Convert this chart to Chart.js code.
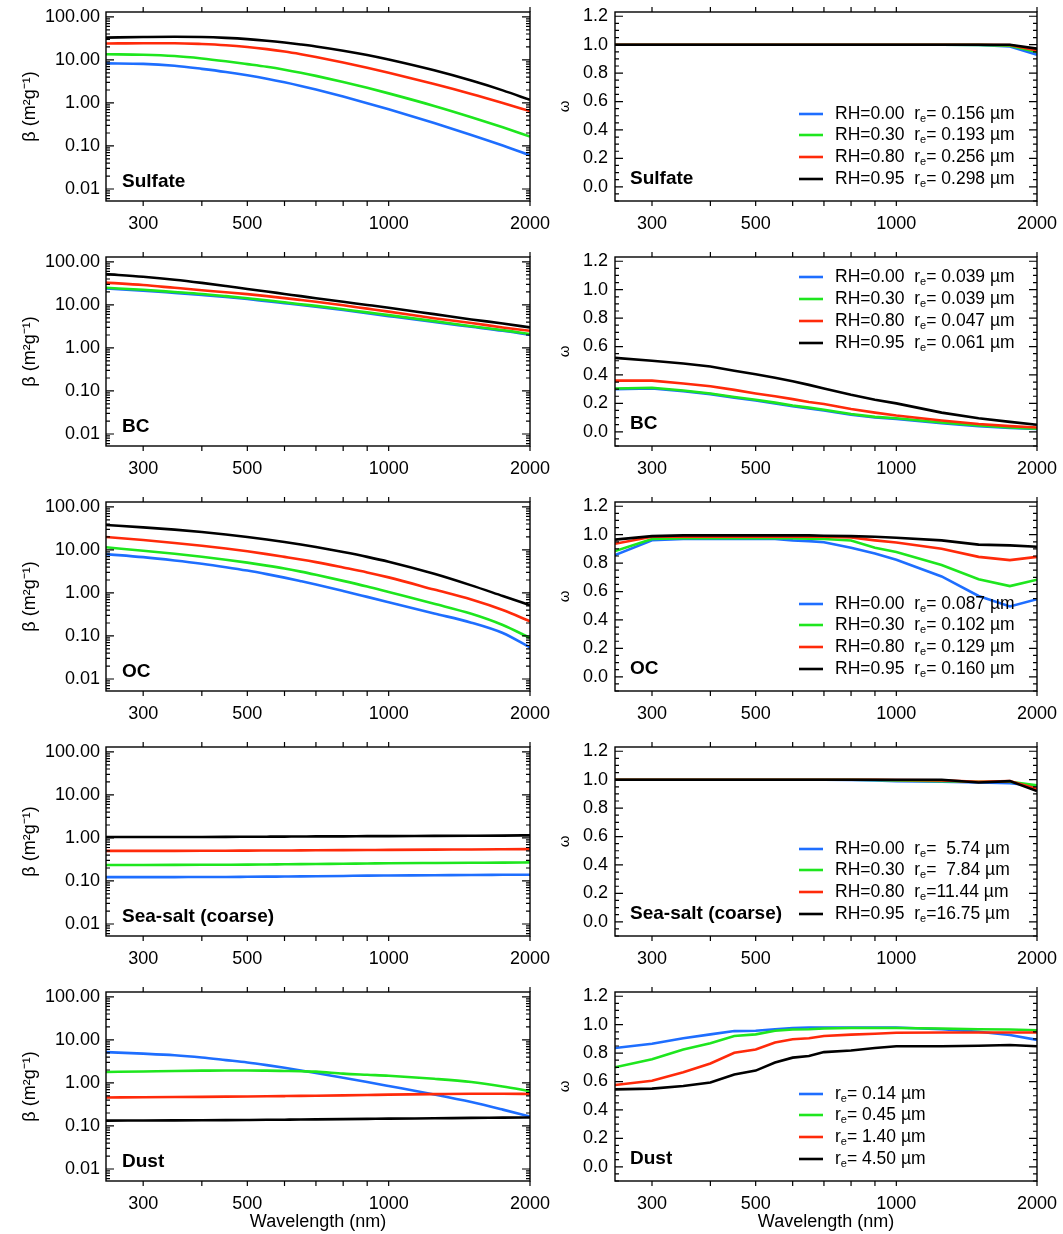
<!DOCTYPE html>
<html><head><meta charset="utf-8">
<script src="https://cdn.jsdelivr.net/npm/chart.js@4.4.1/dist/chart.umd.min.js"></script>
<style>
html,body{margin:0;padding:0;background:#fff;}
#wrap{position:relative;width:1063px;height:1234px;overflow:hidden;background:#fff;}
canvas{position:absolute;}
</style></head><body><div id="wrap"></div>
<script>
// ---------------- data ----------------
const wavelengths = [250,300,350,400,450,500,550,600,650,700,800,900,1000,1250,1500,1750,2000];
const xTickLabels = [300,500,1000,2000];
const xTickMarks = [300,400,500,600,700,800,900,1000,2000];
const betaTickLabels = [0.01,0.1,1,10,100];
const omegaTickLabels = [0,0.2,0.4,0.6,0.8,1.0,1.2];
const seriesColors = ['#1e6eff','#1ee61e','#ff2a0a','#000000'];
const rhLabels = ['RH=0.00','RH=0.30','RH=0.80','RH=0.95'];
const panelNames = ['Sulfate','BC','OC','Sea-salt (coarse)','Dust'];

const sulfateRe = [' 0.156',' 0.193',' 0.256',' 0.298'];
const bcRe = [' 0.039',' 0.039',' 0.047',' 0.061'];
const ocRe = [' 0.087',' 0.102',' 0.129',' 0.160'];
const seaSaltRe = ['  5.74','  7.84','11.44','16.75'];
const dustRe = [' 0.14',' 0.45',' 1.40',' 4.50'];

// Sulfate
const sulfBeta000 = [8.3,8.1,7.3,6.2,5.25,4.4,3.67,3.03,2.49,2.05,1.41,0.99,0.71,0.34,0.18,0.102,0.0605];
const sulfBeta030 = [13.5,13.2,12.3,10.8,9.3,8,6.94,5.94,5.04,4.26,3.07,2.25,1.67,0.853,0.467,0.272,0.166];
const sulfBeta080 = [24,24.5,24.5,23.5,22,20,17.8,15.64,13.55,11.69,8.72,6.57,5.02,2.75,1.62,1.0,0.646];
const sulfBeta095 = [33,34,34.5,34,32.5,30.5,28.0,25.4,22.9,20.6,16.4,13.0,10.2,5.72,3.31,1.96,1.18];
const sulfOmega000 = [1,1,1,1,1,1,1,1,1,1,1,1,1,1,0.998,0.988,0.93];
const sulfOmega030 = [1,1,1,1,1,1,1,1,1,1,1,1,1,1,0.999,0.993,0.948];
const sulfOmega080 = [1,1,1,1,1,1,1,1,1,1,1,1,1,1,1,0.998,0.96];
const sulfOmega095 = [1,1,1,1,1,1,1,1,1,1,1,1,1,1,1,1,0.972];

// BC
const bcBeta000 = [24,21.5,19,17,15.3,13.7,12.2,11,10,9.1,7.6,6.4,5.5,4.0,3.1,2.5,2.0];
const bcBeta030 = [25,22.5,20,18,16,14.3,12.8,11.5,10.4,9.5,7.9,6.7,5.8,4.2,3.2,2.6,2.1];
const bcBeta080 = [33,29,25,22,19.7,17.8,16,14.4,13,11.8,9.8,8.2,7.0,4.9,3.8,3.0,2.5];
const bcBeta095 = [52,45,38.5,32.5,27.5,23.5,20.5,18,16,14.3,11.8,10,8.6,6.1,4.6,3.7,3.0];
const bcOmega000 = [0.30,0.305,0.285,0.265,0.24,0.22,0.2,0.18,0.165,0.15,0.12,0.1,0.09,0.06,0.04,0.027,0.02];
const bcOmega030 = [0.305,0.31,0.29,0.27,0.245,0.225,0.205,0.185,0.17,0.155,0.125,0.105,0.095,0.065,0.045,0.03,0.022];
const bcOmega080 = [0.36,0.36,0.34,0.32,0.295,0.27,0.25,0.23,0.21,0.195,0.16,0.135,0.115,0.08,0.055,0.04,0.03];
const bcOmega095 = [0.52,0.50,0.48,0.46,0.43,0.405,0.38,0.355,0.33,0.305,0.26,0.225,0.2,0.135,0.095,0.07,0.05];

// OC
const ocBeta000 = [8,6.79,5.69,4.77,3.97,3.31,2.74,2.27,1.88,1.57,1.11,0.81,0.61,0.334,0.204,0.117,0.054];
const ocBeta030 = [11.5,9.59,8.12,6.91,5.92,5.06,4.32,3.69,3.13,2.64,1.91,1.41,1.05,0.561,0.328,0.18,0.09];
const ocBeta080 = [20,17,14.5,12.5,10.8,9.3,8,6.9,6,5.2,3.9,3,2.3,1.2,0.7,0.4,0.22];
const ocBeta095 = [38,33.5,29.6,26.0,22.8,20.0,17.5,15.3,13.4,11.7,8.93,6.9,5.33,2.79,1.5,0.85,0.52];
const ocOmega000 = [0.856,0.961,0.97,0.97,0.97,0.97,0.97,0.96,0.955,0.947,0.908,0.867,0.823,0.706,0.569,0.495,0.546];
const ocOmega030 = [0.885,0.97,0.975,0.975,0.975,0.975,0.975,0.975,0.972,0.97,0.959,0.908,0.878,0.787,0.686,0.638,0.683];
const ocOmega080 = [0.936,0.985,0.985,0.985,0.985,0.985,0.985,0.985,0.985,0.985,0.98,0.96,0.945,0.901,0.844,0.821,0.844];
const ocOmega095 = [0.965,0.99,0.995,0.995,0.995,0.995,0.995,0.995,0.995,0.993,0.99,0.985,0.978,0.96,0.93,0.925,0.915];

// Sea-salt (coarse)
const ssBeta000 = [0.123,0.123,0.123,0.124,0.124,0.125,0.126,0.127,0.128,0.129,0.131,0.133,0.134,0.136,0.138,0.139,0.14];
const ssBeta030 = [0.235,0.236,0.237,0.238,0.239,0.24,0.242,0.244,0.246,0.248,0.252,0.255,0.258,0.262,0.265,0.267,0.27];
const ssBeta080 = [0.5,0.5,0.502,0.504,0.506,0.508,0.51,0.512,0.514,0.516,0.52,0.524,0.528,0.535,0.54,0.545,0.55];
const ssBeta095 = [1.05,1.05,1.05,1.055,1.06,1.065,1.07,1.075,1.08,1.085,1.09,1.1,1.105,1.115,1.125,1.135,1.15];
const ssOmega000 = [1,1,1,1,1,1,1,1,1,1,0.998,0.995,0.99,0.985,0.98,0.975,0.955];
const ssOmega030 = [1,1,1,1,1,1,1,1,1,1,1,0.998,0.995,0.99,0.985,0.985,0.96];
const ssOmega080 = [1,1,1,1,1,1,1,1,1,1,1,1,0.998,0.995,0.985,0.99,0.935];
const ssOmega095 = [1,1,1,1,1,1,1,1,1,1,1,1,1,1,0.98,0.99,0.92];

// Dust
const dustBeta014 = [5.2,4.8,4.4,3.9,3.4,3.0,2.6,2.25,1.95,1.7,1.32,1.05,0.85,0.54,0.36,0.24,0.165];
const dustBeta045 = [1.8,1.85,1.9,1.93,1.95,1.95,1.93,1.9,1.87,1.83,1.65,1.55,1.47,1.25,1.05,0.83,0.65];
const dustBeta140 = [0.46,0.465,0.47,0.475,0.48,0.485,0.49,0.495,0.5,0.505,0.515,0.525,0.535,0.55,0.56,0.56,0.555];
const dustBeta450 = [0.133,0.134,0.135,0.136,0.137,0.138,0.139,0.14,0.141,0.142,0.144,0.146,0.148,0.151,0.154,0.156,0.158];
const dustOmega014 = [0.836,0.866,0.905,0.932,0.955,0.957,0.968,0.977,0.98,0.98,0.98,0.98,0.98,0.968,0.95,0.927,0.893];
const dustOmega045 = [0.70,0.757,0.825,0.87,0.92,0.932,0.957,0.966,0.968,0.973,0.977,0.977,0.977,0.973,0.968,0.966,0.961];
const dustOmega140 = [0.575,0.605,0.666,0.727,0.802,0.825,0.875,0.898,0.905,0.92,0.93,0.936,0.943,0.945,0.945,0.945,0.945];
const dustOmega450 = [0.545,0.55,0.568,0.593,0.65,0.677,0.734,0.768,0.78,0.807,0.818,0.836,0.848,0.848,0.852,0.857,0.848];

// ---------------- drawing ----------------
const FONT = '"Liberation Sans", Arial, Helvetica, sans-serif';

function logMinorTicks(lo, hi) {
  const out = [];
  for (let e = -3; e <= 2; e++) for (let m = 1; m <= 9; m++) {
    const v = m * Math.pow(10, e);
    if (v >= lo && v <= hi) out.push(v);
  }
  return out;
}
function linMinorTicks(lo, hi, step) {
  const out = [];
  for (let v = Math.ceil(lo / step) * step; v <= hi + 1e-9; v += step) out.push(+v.toFixed(4));
  return out;
}

const decorPlugin = {
  id: 'decor',
  afterDatasetsDraw(chart, args, o) {
    const {ctx, chartArea: a} = chart;
    const x = chart.scales.x, y = chart.scales.y;
    ctx.save();
    ctx.strokeStyle = '#000';
    ctx.lineWidth = 1.4;
    ctx.strokeRect(a.left, a.top, a.right - a.left, a.bottom - a.top);
    ctx.lineWidth = 1.2;
    ctx.beginPath();
    for (const v of xTickMarks) {
      const p = x.getPixelForValue(v);
      ctx.moveTo(p, a.bottom); ctx.lineTo(p, a.bottom + 5);
      ctx.moveTo(p, a.top); ctx.lineTo(p, a.top - 5);
    }
    for (const v of o.yMajor) {
      const p = y.getPixelForValue(v);
      if (p < a.top - 0.5 || p > a.bottom + 0.5) continue;
      ctx.moveTo(a.left, p); ctx.lineTo(a.left + 8, p);
      ctx.moveTo(a.right, p); ctx.lineTo(a.right - 8, p);
    }
    for (const v of o.yMinor) {
      const p = y.getPixelForValue(v);
      if (p < a.top - 0.5 || p > a.bottom + 0.5) continue;
      ctx.moveTo(a.left, p); ctx.lineTo(a.left + 4, p);
      ctx.moveTo(a.right, p); ctx.lineTo(a.right - 4, p);
    }
    ctx.stroke();
    // panel name
    ctx.fillStyle = '#000';
    ctx.font = 'bold 19px ' + FONT;
    ctx.textBaseline = 'middle';
    ctx.textAlign = 'left';
    ctx.fillText(o.name, a.left + o.nameDx, a.bottom - o.nameDy);
    // legend
    if (o.legend) {
      const rows = o.legend.top ? [20, 42, 64, 86].map(d => a.top + d) : [87, 66, 44, 22].map(d => a.bottom - d);
      o.legend.items.forEach((it, i) => {
        const yy = rows[i];
        ctx.strokeStyle = seriesColors[i];
        ctx.lineWidth = 2.6;
        ctx.beginPath();
        ctx.moveTo(a.left + 184, yy); ctx.lineTo(a.left + 208, yy);
        ctx.stroke();
        let tx = a.left + 220;
        ctx.fillStyle = '#000';
        ctx.font = '17.5px ' + FONT;
        ctx.textBaseline = 'middle';
        const head = it.rh ? it.rh + '  r' : 'r';
        ctx.fillText(head, tx, yy);
        tx += ctx.measureText(head).width;
        ctx.font = '11px ' + FONT;
        ctx.fillText('e', tx, yy + 5);
        tx += ctx.measureText('e').width;
        ctx.font = '17.5px ' + FONT;
        ctx.fillText('=' + it.re + ' \u00b5m', tx, yy);
      });
    }
    ctx.restore();
  }
};

const wrap = document.getElementById('wrap');

function makePanel(row, col, series, cfg) {
  const cv = document.createElement('canvas');
  const left = col === 0 ? 0 : 540;
  const width = col === 0 ? 560 : 523;
  const height = row === 4 ? 254 : 245;
  cv.width = width; cv.height = height;
  cv.style.left = left + 'px';
  cv.style.top = (245 * row) + 'px';
  cv.style.width = width + 'px'; cv.style.height = height + 'px';
  wrap.appendChild(cv);
  const isOmega = col === 1;
  const datasets = series.map((d, i) => ({
    data: d,
    borderColor: seriesColors[i],
    borderWidth: 2.6,
    pointRadius: 0,
    fill: false,
    order: 3 - i,
    cubicInterpolationMode: isOmega ? 'default' : 'monotone',
    tension: 0
  }));
  const fitY = w => s => { s.width = w; s.paddingTop = 0; s.paddingBottom = 0; s.paddingLeft = 0; s.paddingRight = 0; };
  const yScale = isOmega ? {
    type: 'linear', min: -0.1, max: 1.23,
    afterBuildTicks: s => { s.ticks = omegaTickLabels.map(v => ({value: v})); },
    afterFit: fitY(75),
    grid: {display: false, drawTicks: false}, border: {display: false},
    ticks: {color: '#000', font: {family: FONT, size: 18}, padding: 7, callback: v => Number(v).toFixed(1)},
    title: {display: true, text: '\u03c9', color: '#000', font: {family: FONT, size: 15}, padding: {top: 16, bottom: 0}}
  } : {
    type: 'logarithmic', min: 0.00526, max: 130,
    afterBuildTicks: s => { s.ticks = betaTickLabels.map(v => ({value: v})); },
    afterFit: fitY(106),
    grid: {display: false, drawTicks: false}, border: {display: false},
    ticks: {color: '#000', font: {family: FONT, size: 18}, padding: 6, callback: v => Number(v).toFixed(2)},
    title: {display: true, text: '\u03b2 (m\u00b2g\u207b\u00b9)', color: '#000', font: {family: FONT, size: 18}, padding: {top: 19, bottom: 0}}
  };
  new Chart(cv, {
    type: 'line',
    data: {labels: wavelengths, datasets},
    plugins: [decorPlugin],
    options: {
      responsive: false, animation: false, devicePixelRatio: 1,
      layout: {autoPadding: false, padding: {top: 12, right: col === 0 ? 30 : 26, left: 0, bottom: 0}},
      plugins: {
        legend: {display: false}, tooltip: {enabled: false},
        decor: {
          name: panelNames[row],
          nameDx: col === 0 ? 16 : 15,
          nameDy: col === 0 ? 19 : 22,
          yMajor: isOmega ? omegaTickLabels : betaTickLabels,
          yMinor: isOmega ? linMinorTicks(-0.1, 1.23, 0.05) : logMinorTicks(0.00526, 130),
          legend: cfg.legend || null
        }
      },
      scales: {
        x: {
          type: 'logarithmic', min: 250, max: 2000,
          afterBuildTicks: s => { s.ticks = xTickLabels.map(v => ({value: v})); },
          afterFit: s => { s.height = row === 4 ? 53 : 44; s.paddingLeft = 0; s.paddingRight = 0; s.paddingTop = 0; s.paddingBottom = 0; },
          grid: {display: false, drawTicks: false}, border: {display: false},
          ticks: {color: '#000', font: {family: FONT, size: 18}, padding: 12, maxRotation: 0, autoSkip: false, callback: v => String(v)},
          title: row === 4 ? {display: true, text: 'Wavelength (nm)', color: '#000', font: {family: FONT, size: 18}, padding: {top: 0, bottom: 1}} : {display: false}
        },
        y: yScale
      }
    }
  });
}

function legendItems(re, withRH) {
  return re.map((r, i) => ({rh: withRH ? rhLabels[i] : null, re: r}));
}

const xy = arr => arr.map((v, i) => ({x: wavelengths[i], y: v}));

makePanel(0, 0, [sulfBeta000, sulfBeta030, sulfBeta080, sulfBeta095].map(xy), {});
makePanel(0, 1, [sulfOmega000, sulfOmega030, sulfOmega080, sulfOmega095].map(xy), {legend: {top: false, items: legendItems(sulfateRe, true)}});
makePanel(1, 0, [bcBeta000, bcBeta030, bcBeta080, bcBeta095].map(xy), {});
makePanel(1, 1, [bcOmega000, bcOmega030, bcOmega080, bcOmega095].map(xy), {legend: {top: true, items: legendItems(bcRe, true)}});
makePanel(2, 0, [ocBeta000, ocBeta030, ocBeta080, ocBeta095].map(xy), {});
makePanel(2, 1, [ocOmega000, ocOmega030, ocOmega080, ocOmega095].map(xy), {legend: {top: false, items: legendItems(ocRe, true)}});
makePanel(3, 0, [ssBeta000, ssBeta030, ssBeta080, ssBeta095].map(xy), {});
makePanel(3, 1, [ssOmega000, ssOmega030, ssOmega080, ssOmega095].map(xy), {legend: {top: false, items: legendItems(seaSaltRe, true)}});
makePanel(4, 0, [dustBeta014, dustBeta045, dustBeta140, dustBeta450].map(xy), {});
makePanel(4, 1, [dustOmega014, dustOmega045, dustOmega140, dustOmega450].map(xy), {legend: {top: false, items: legendItems(dustRe, false)}});
</script></body></html>
